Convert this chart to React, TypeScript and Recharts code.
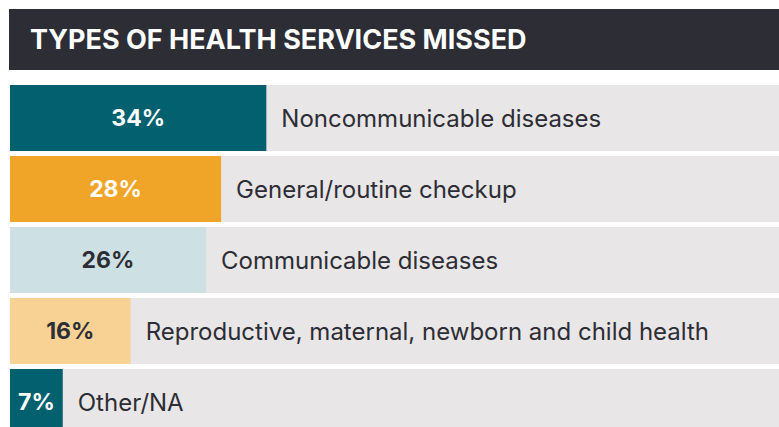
import { BarChart, Bar, XAxis, YAxis, Cell, LabelList } from 'recharts';

const categories = [
  'Noncommunicable diseases',
  'General/routine checkup',
  'Communicable diseases',
  'Reproductive, maternal, newborn and child health',
  'Other/NA',
];
const shares = [34, 28, 26, 16, 7];
const barColors = ['#03606f', '#f0a529', '#cde0e4', '#f7d294', '#03606f'];
const valueColors = ['#ffffff', '#ffffff', '#2d2d35', '#2d2d35', '#ffffff'];

const data = categories.map((name, i) => ({ name, value: shares[i] }));

const FONT = 'Inter, "Noto Sans", sans-serif';

const ValueLabel = (props: any) => {
  const { x, y, width, height, value, index } = props;
  return (
    <text
      x={x + width / 2}
      y={y + height / 2}
      textAnchor="middle"
      dominantBaseline="central"
      fill={valueColors[index]}
      style={{ fontFamily: FONT, fontSize: 23, fontWeight: 700 }}
    >
      {value}%
    </text>
  );
};

const NameLabel = (props: any) => {
  const { x, y, width, height, index } = props;
  return (
    <text
      x={x + width + 15}
      y={y + height / 2}
      textAnchor="start"
      dominantBaseline="central"
      fill="#2d2d35"
      style={{ fontFamily: FONT, fontSize: 24 }}
    >
      {categories[index]}
    </text>
  );
};

export default function App() {
  return (
    <div
      style={{
        position: 'absolute',
        left: 0,
        top: 0,
        width: 779,
        height: 427,
        overflow: 'hidden',
        background: '#ffffff',
      }}
    >
      <div
        style={{
          position: 'absolute',
          left: 9,
          top: 9,
          width: 770,
          height: 61,
          background: '#2d2d36',
          color: '#ffffff',
          fontFamily: FONT,
          fontWeight: 700,
          fontSize: 27,
          lineHeight: '61px',
          paddingLeft: 21,
          boxSizing: 'border-box',
          whiteSpace: 'nowrap',
        }}
      >
        TYPES OF HEALTH SERVICES MISSED
      </div>
      <BarChart
        width={779}
        height={437}
        data={data}
        layout="vertical"
        margin={{ top: 82, right: 0, bottom: 0, left: 10 }}
        barSize={66}
      >
        <XAxis type="number" domain={[0, 102]} hide />
        <YAxis type="category" dataKey="name" hide />
        <Bar dataKey="value" isAnimationActive={false} background={{ fill: '#e8e6e7' }}>
          {data.map((_, i) => (
            <Cell key={i} fill={barColors[i]} />
          ))}
          <LabelList dataKey="value" content={ValueLabel} />
          <LabelList dataKey="name" content={NameLabel} />
        </Bar>
      </BarChart>
    </div>
  );
}
